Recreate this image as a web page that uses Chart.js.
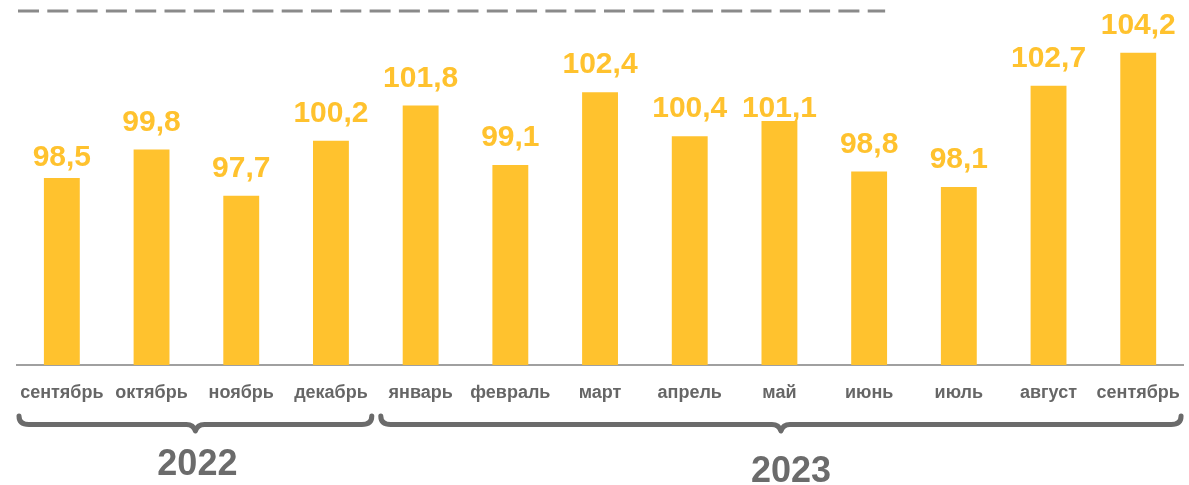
<!DOCTYPE html>
<html>
<head>
<meta charset="utf-8">
<script src="https://cdn.jsdelivr.net/npm/chart.js@4/dist/chart.umd.min.js"></script>
<style>
  html, body { margin: 0; padding: 0; background: #fff; }
  #wrap { width: 1189px; height: 485px; position: relative; }
</style>
</head>
<body>
<div id="wrap"><canvas id="c"></canvas></div>
<script>
const categories = ['сентябрь', 'октябрь', 'ноябрь', 'декабрь', 'январь', 'февраль', 'март', 'апрель', 'май', 'июнь', 'июль', 'август', 'сентябрь'];
const values = [98.5, 99.8, 97.7, 100.2, 101.8, 99.1, 102.4, 100.4, 101.1, 98.8, 98.1, 102.7, 104.2];
const yearLabels = ['2022', '2023'];
const yearStart = [0, 4];
const yearEnd = [3, 12];
const referenceValue = 106.1;

const BAR = '#FFC22E';
const GRAY = '#6b6b6b';

function fmt(v) { return v.toFixed(1).replace('.', ','); }

const decorPlugin = {
  id: 'decor',
  afterDatasetsDraw(chart, args, opts) {
    const ctx = chart.ctx;
    const meta = chart.getDatasetMeta(0);
    const shifts = opts.labelShift || [];
    ctx.save();
    ctx.fillStyle = BAR;
    ctx.font = 'bold 30px "Liberation Sans", Arial, sans-serif';
    ctx.textAlign = 'center';
    ctx.textBaseline = 'alphabetic';
    meta.data.forEach((bar, i) => {
      ctx.fillText(fmt(values[i]), bar.x, bar.y - 19 + (shifts[i] || 0));
    });
    ctx.restore();
  },
  afterDraw(chart) {
    const ctx = chart.ctx;
    const xs = chart.scales.x;
    const ys = chart.scales.y;
    const step = xs.getPixelForValue(1) - xs.getPixelForValue(0);
    // dashed reference line
    ctx.save();
    ctx.strokeStyle = '#8a8a8a';
    ctx.lineWidth = 3;
    ctx.setLineDash([21, 8.3]);
    const ry = ys.getPixelForValue(referenceValue);
    ctx.beginPath();
    ctx.moveTo(chart.chartArea.left + 1, ry);
    ctx.lineTo(xs.getPixelForValue(9) + 16, ry);
    ctx.stroke();
    ctx.restore();

    // braces and years
    ctx.save();
    ctx.strokeStyle = GRAY;
    ctx.lineWidth = 5;
    ctx.lineCap = 'round';
    ctx.lineJoin = 'round';
    const yTop = 416, yMid = 424.5, yTip = 431;
    for (let g = 0; g < yearLabels.length; g++) {
      const x0 = xs.getPixelForValue(yearStart[g]) - step / 2 + (g === 0 ? 2 : 5);
      const x1 = xs.getPixelForValue(yearEnd[g]) + step / 2 - (g === 0 ? 4 : 2);
      const tip = (x0 + x1) / 2;
      ctx.beginPath();
      ctx.moveTo(x0, yTop);
      ctx.quadraticCurveTo(x0, yMid, x0 + 10, yMid);
      ctx.lineTo(tip - 9, yMid);
      ctx.quadraticCurveTo(tip - 2, yMid, tip, yTip);
      ctx.quadraticCurveTo(tip + 2, yMid, tip + 9, yMid);
      ctx.lineTo(x1 - 10, yMid);
      ctx.quadraticCurveTo(x1, yMid, x1, yTop);
      ctx.stroke();
      ctx.fillStyle = GRAY;
      ctx.font = 'bold 36px "Liberation Sans", Arial, sans-serif';
      ctx.textAlign = 'center';
      ctx.textBaseline = 'middle';
      ctx.fillText(yearLabels[g], tip + (g === 0 ? 2 : 10), g === 0 ? 465 : 472);
    }
    ctx.restore();
  }
};

new Chart(document.getElementById('c'), {
  type: 'bar',
  data: {
    labels: categories,
    datasets: [{
      data: values,
      backgroundColor: BAR,
      barPercentage: 0.4,
      categoryPercentage: 1.0
    }]
  },
  options: {
    responsive: true,
    maintainAspectRatio: false,
    animation: false,
    layout: { padding: { left: 17, right: 2, top: 0, bottom: 0 } },
    plugins: {
      legend: { display: false },
      tooltip: { enabled: false },
      decor: { labelShift: [7, 0, 0, 0, 0, 0, 0, 0, 15, 0, 0, 0, 0] }
    },
    scales: {
      x: {
        grid: { display: false },
        border: { display: true, color: '#a0a0a0', width: 2 },
        ticks: {
          color: '#666666',
          padding: 9,
          maxRotation: 0,
          autoSkip: false,
          font: { family: '"Liberation Sans", Arial, sans-serif', size: 18, weight: 'bold' }
        },
        afterFit(scale) { scale.height = 120; }
      },
      y: {
        display: false,
        min: 90,
        max: 106.6
      }
    }
  },
  plugins: [decorPlugin]
});
</script>
</body>
</html>
